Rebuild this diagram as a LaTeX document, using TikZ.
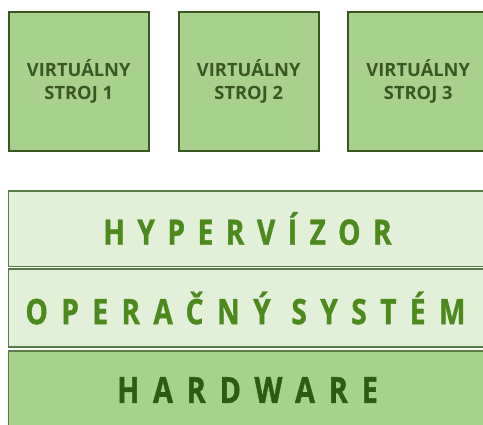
\documentclass[tikz,border=0pt]{standalone}
\usepackage{fontspec}
\setmainfont{Open Sans}
\newfontfamily\layerfont{Open Sans}[FakeStretch=0.8,LetterSpace=36,FakeBold=1.2]
\newfontfamily\widelayerfont{Open Sans}[FakeStretch=0.8,LetterSpace=38.5,FakeBold=1.2]
\definecolor{vmfill}{HTML}{A9D18E}
\definecolor{vmline}{HTML}{385723}
\definecolor{layerfill}{HTML}{E2F0D9}
\definecolor{layerline}{HTML}{587D44}
\definecolor{softtext}{HTML}{4C8A1E}
\definecolor{darktext}{HTML}{2F5A14}
\tikzset{
  vmbox/.style={draw=vmline, line width=2pt, fill=vmfill, minimum width=140.5pt,
    minimum height=139pt, inner sep=0pt, align=center, text=vmline,
    font=\fontsize{18.3}{23}\selectfont\bfseries},
  layerbox/.style={draw=layerline, line width=1.8pt, fill=layerfill,
    minimum width=480pt, inner sep=0pt},
  layertext/.style={font=\fontsize{35}{40}\layerfont\bfseries, inner sep=0pt}
}
\begin{document}
\begin{tikzpicture}[x=1pt,y=-1pt]
\useasboundingbox (0,0) rectangle (483,424);
\clip (0,0) rectangle (483,424);
% three virtual machines
\node[vmbox] (vm1) at (78.75,81.2) {VIRTUÁLNY\\STROJ 1};
\node[vmbox] (vm2) at (248.75,81.2) {VIRTUÁLNY\\STROJ 2};
\node[vmbox] (vm3) at (418.25,81.2) {VIRTUÁLNY\\STROJ 3};
% stacked layers
\node[layerbox, minimum height=75.8pt] (hv) at (248.5,228.6) {};
\node[layerbox, minimum height=78pt] (os) at (248.5,308) {};
\node[layerbox, minimum height=78pt, fill=vmfill] (hw) at (248.5,390) {};
\node[layertext, text=softtext] (hvt) at ([xshift=-1pt]hv.center) {HYPERVÍZOR};
\node[layertext, text=softtext, font=\fontsize{35}{40}\widelayerfont\bfseries] (ost) at ([xshift=-3pt]os.center) {OPERAČNÝ SYSTÉM};
\node[layertext, text=darktext, font=\fontsize{36}{40}\widelayerfont\bfseries] (hwt) at ([xshift=-1pt]hw.center) {HARDWARE};
\end{tikzpicture}
\end{document}
